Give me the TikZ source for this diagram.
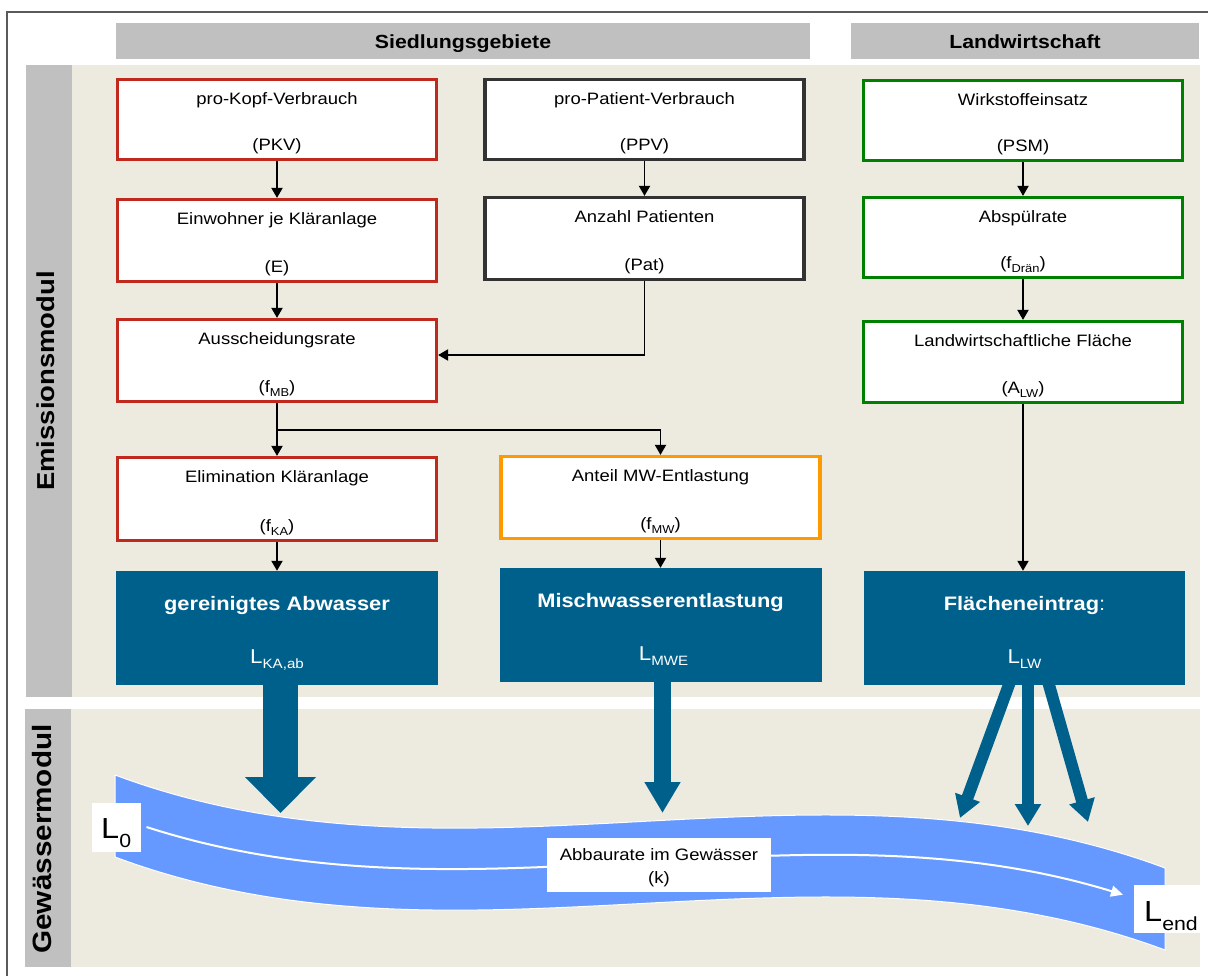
\documentclass[tikz,border=0pt]{standalone}
\usepackage{fontspec}
\setmainfont{Liberation Sans}[FakeStretch=1.12]
\usetikzlibrary{arrows.meta}
\definecolor{beige}{RGB}{237,234,224}
\definecolor{stripgray}{RGB}{192,192,192}
\definecolor{kred}{RGB}{192,42,30}
\definecolor{kdark}{RGB}{51,51,51}
\definecolor{kgreen}{RGB}{0,128,0}
\definecolor{korange}{RGB}{255,153,0}
\definecolor{kblue}{RGB}{0,96,140}
\definecolor{river}{RGB}{102,153,255}
\definecolor{framegray}{RGB}{90,90,90}
\newcommand{\fs}[1]{\fontsize{#1}{#1}\selectfont}
\newcommand{\dsub}[3]{\raisebox{-#2pt}{\fs{#1}#3}}
\newcommand{\kbox}[7]{%
  \node[inbox, draw=#2, minimum height=#5pt] (#1) at (#3,#4) {};
  \node[txt] (#1-a) at ([yshift=-27pt]#1.north) {#6};
  \node[txt] (#1-b) at ([yshift=11pt]#1.south) {#7};
}
\begin{document}
\begin{tikzpicture}[x=1pt,y=-1pt,
  inbox/.style={line width=3.2pt, fill=white, inner sep=0pt, minimum width=319pt},
  bluebox/.style={fill=kblue, inner sep=0pt, minimum width=322pt, minimum height=114pt},
  txt/.style={anchor=base, inner sep=0pt, font=\fs{16.5}},
  btxt/.style={anchor=base, inner sep=0pt, text=white, font=\fs{19.5}\bfseries},
  wtxt/.style={anchor=base, inner sep=0pt, text=white, font=\fs{20}},
  htxt/.style={anchor=base, inner sep=0pt, font=\fs{19}\bfseries},
  hbar/.style={fill=stripgray, inner sep=0pt, minimum height=36pt},
  conn/.style={-{Triangle[length=10pt,width=11pt]}, line width=1.9pt, black},
  bigA/.style={draw=kblue, line width=35pt, -{Triangle[length=36pt,width=69pt]}},
  midA/.style={draw=kblue, line width=17pt, -{Triangle[length=31pt,width=34pt]}},
  fanA/.style={draw=kblue, line width=12pt, -{Triangle[length=22pt,width=25pt]}},
  lab/.style={fill=white, inner sep=0pt},
]
\useasboundingbox (0,0) rectangle (1208,976);
\fill[white] (0,0) rectangle (1208,976);
% frame
\draw[framegray, line width=2pt] (1208,12) -- (7,12) -- (7,976);
% header bars
\node[hbar, minimum width=694pt] (hs) at (463,41) {};
\node[htxt] (hst) at (463,49) {Siedlungsgebiete};
\node[hbar, minimum width=348pt] (hl) at (1025,41) {};
\node[htxt] (hlt) at (1025,49) {Landwirtschaft};
% panels
\fill[beige] (72,65) rectangle (1200,697);
\fill[stripgray] (26,65) rectangle (72,697);
\fill[beige] (71,709) rectangle (1200,967);
\fill[stripgray] (25,709) rectangle (71,967);
\node[rotate=90, font=\fs{24.5}\bfseries, inner sep=0pt] (em) at (46,381) {Emissionsmodul};
\node[rotate=90, font=\fs{26.5}\bfseries, inner sep=0pt] (gm) at (42,839) {Gewässermodul};
% boxes
\kbox{pkv}{kred}{277}{119.5}{80}{pro-Kopf-Verbrauch}{(PKV)}
\kbox{ppv}{kdark}{644.5}{119.5}{80}{pro-Patient-Verbrauch}{(PPV)}
\kbox{psm}{kgreen}{1023}{120.5}{80}{Wirkstoffeinsatz}{(PSM)}
\kbox{ew}{kred}{277}{240.5}{82}{Einwohner je Kläranlage}{(E)}
\kbox{pat}{kdark}{644.5}{238.5}{82}{Anzahl Patienten}{(Pat)}
\kbox{dran}{kgreen}{1023}{237.5}{80}{Abspülrate}{(f\dsub{11.5}{4}{Drän})}
\kbox{fmb}{kred}{277}{360.5}{82}{Ausscheidungsrate}{(f\dsub{11.5}{4}{MB})}
\kbox{alw}{kgreen}{1023}{362}{81}{Landwirtschaftliche Fläche}{(A\dsub{11.5}{4}{LW})}
\kbox{fka}{kred}{277}{499}{83}{Elimination Kläranlage}{(f\dsub{11.5}{4}{KA})}
\kbox{fmw}{korange}{660.5}{497.5}{82}{Anteil MW-Entlastung}{(f\dsub{11.5}{4}{MW})}
% blue boxes
\node[bluebox] (b1) at (277,628) {};
\node[btxt] (b1a) at ([yshift=-40pt]b1.north) {gereinigtes Abwasser};
\node[wtxt] (b1b) at ([yshift=22pt]b1.south) {L\dsub{13.5}{5}{KA,ab}};
\node[bluebox] (b2) at (660.5,625) {};
\node[btxt] (b2a) at ([yshift=-40pt]b2.north) {Mischwasserentlastung};
\node[wtxt] (b2b) at ([xshift=3pt,yshift=22pt]b2.south) {L\dsub{13.5}{5}{MWE}};
\node[bluebox, minimum width=321pt] (b3) at (1024.5,628) {};
\node[wtxt, font=\fs{19.5}] (b3a) at ([yshift=-40pt]b3.north) {{\bfseries Flächeneintrag}:};
\node[wtxt] (b3b) at ([yshift=22pt]b3.south) {L\dsub{13.5}{5}{LW}};
% thin connectors
\draw[conn] (pkv.south) -- (ew.north);
\draw[conn] (ppv.south) -- (pat.north);
\draw[conn] (psm.south) -- (dran.north);
\draw[conn] (ew.south) -- (fmb.north);
\draw[conn] (dran.south) -- (alw.north);
\coordinate (j1) at (644.5,355);
\draw[conn] (pat.south) -- (j1) -- (j1 -| fmb.east);
\draw[conn] (fmb.south) -- (fka.north);
\coordinate (j2) at (277,430);
\draw[conn] (j2) -| (fmw.north);
\draw[conn] (fka.south) -- (b1.north);
\draw[conn] (fmw.south) -- (b2.north);
\draw[conn] (alw.south) -- (alw.south |- b3.north);
% river
\path[fill=river, draw=white, line width=1pt]
  (115,775) .. controls (465,905.3) and (815,737.9) .. (1165,868)
  -- (1165,950) .. controls (815,819.9) and (465,987.3) .. (115,857) -- cycle;
\coordinate (w0) at (146.5,827);
\coordinate (w1) at (1123,894.7);
\draw[white, line width=2pt, -{Triangle[length=12pt,width=11pt]}]
  (w0) .. controls (472,932.1) and (797.5,794.9) .. (w1);
\node[lab, minimum width=224pt, minimum height=54pt] (k) at (659,865) {};
\node[txt] (k1) at (659,860) {Abbaurate im Gewässer};
\node[txt] (k2) at (659,883) {(k)};
\node[lab, minimum width=49pt, minimum height=49pt] (l0) at (116.5,827.5) {};
\node[anchor=base west, inner sep=0pt, font=\fs{29}] (l0t) at (101,838) {L\dsub{19}{9}{0}};
\node[lab, minimum width=80pt, minimum height=48pt] (le) at (1174,909) {};
\node[anchor=base west, inner sep=0pt, font=\fs{29}] (let) at (1144,921) {L\dsub{19}{9}{end}};
% big arrows
\coordinate (t1) at (280.5,813);
\draw[bigA] ([xshift=3.5pt,yshift=2pt]b1.south) -- (t1);
\coordinate (t2) at (662.5,813);
\draw[midA] ([xshift=2pt,yshift=2pt]b2.south) -- (t2);
\coordinate (t3) at (960,818);
\coordinate (t4) at (1028,826);
\coordinate (t5) at (1088,822);
\draw[fanA] ([xshift=-15pt,yshift=2pt]b3.south) -- (t3);
\draw[fanA] ([xshift=3.5pt,yshift=2pt]b3.south) -- (t4);
\draw[fanA] ([xshift=24pt,yshift=2pt]b3.south) -- (t5);
\end{tikzpicture}
\end{document}
